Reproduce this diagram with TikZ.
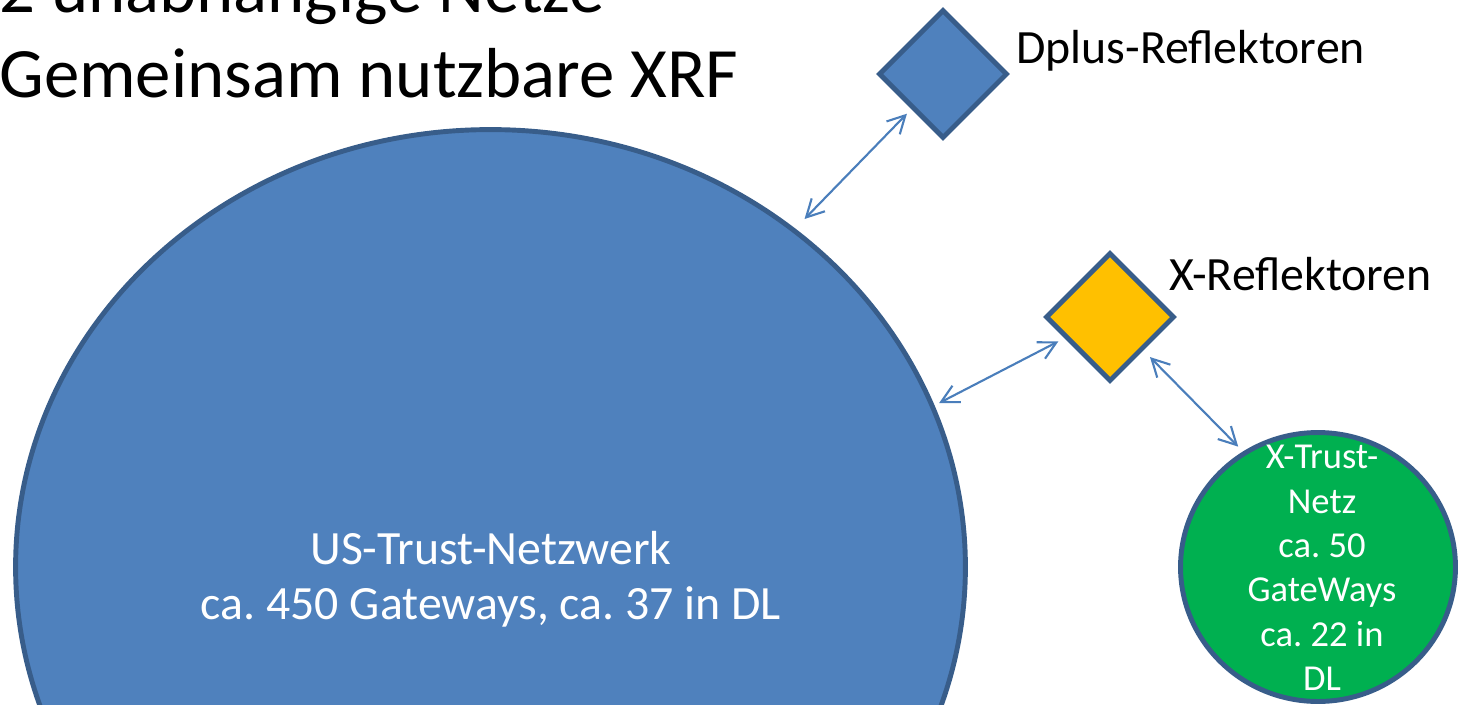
\documentclass[tikz,border=0pt]{standalone}
\usepackage{fontspec}
\setmainfont{Carlito}
\usetikzlibrary{shapes.geometric,arrows.meta}
\frenchspacing

\definecolor{ppblue}{HTML}{4F81BD}
\definecolor{ppline}{HTML}{385D8A}
\definecolor{ppgold}{HTML}{FFC000}
\definecolor{ppgreen}{HTML}{00B050}
\definecolor{pparrow}{HTML}{4A7EBB}

\begin{document}
\begin{tikzpicture}[
  x=0.02cm, y=-0.02cm,
  net/.style={
    ellipse, draw=ppline, line width=2.8pt, inner sep=0pt
  },
  usnet/.style={net, fill=ppblue, minimum width=19.0cm, minimum height=17.5cm},
  xnet/.style={net, fill=ppgreen, minimum width=5.5cm, minimum height=5.38cm},
  refl/.style={
    diamond, aspect=1, draw=ppline, line width=2.8pt, inner sep=0pt,
    minimum width=2.58cm, minimum height=2.58cm
  },
  dplusrefl/.style={refl, fill=ppblue},
  xrefl/.style={refl, fill=ppgold},
  heading/.style={anchor=base west, inner sep=0pt, font=\fontsize{40.3}{48}\selectfont},
  tag/.style={anchor=base west, inner sep=0pt, font=\fontsize{27.2}{32}\selectfont},
  intext/.style={text=white, align=center, inner sep=0pt},
  link/.style={
    draw=pparrow, line width=1.2pt,
    >={Straight Barb[length=3.5mm,width=3.7mm]}, <->
  }
]
\clip (0,0) rectangle (1458,704);

% --- Heading (cut at the top edge) ---
\node[heading] (head1) at (-1,12) {2 unabhängige Netze};
\node[heading] (head2) at (-1,97) {Gemeinsam nutzbare XRF};

% --- Networks ---
\node[usnet] (us) at (490.5,567) {};
\node[xnet]  (xt) at (1318,567) {};

% --- Reflectors ---
\node[dplusrefl] (dplus) at (943,74) {};
\node[xrefl]     (xref)  at (1110,317) {};

\node[tag] (dplustag) at (1016,63)  {Dplus-Reflektoren};
\node[tag] (xreftag)  at (1169,290) {X-Reflektoren};

% --- Links ---
\draw[link, shorten <=0.265cm, shorten >=0.125cm] (us.48.2) -- (dplus.228.7);
\draw[link, shorten <=0.105cm, shorten >=0.135cm] (us.20.35) -- (xref.205.7);
\draw[link, shorten <=0.185cm, shorten >=0.135cm] (xref.315.7) -- (xt.123.1);

% --- Network texts ---
\node[intext, font=\fontsize{27.2}{31.5}\selectfont] (ustext) at (491,579)
  {US-Trust-Netzwerk\\ca. 450 Gateways, ca. 37 in DL};
\node[intext, font=\fontsize{20.8}{25.3}\selectfont] (xttext) at (1322,568)
  {X-Trust-\\Netz\\ca. 50\\GateWays\\ca. 22 in\\DL};

\end{tikzpicture}
\end{document}
